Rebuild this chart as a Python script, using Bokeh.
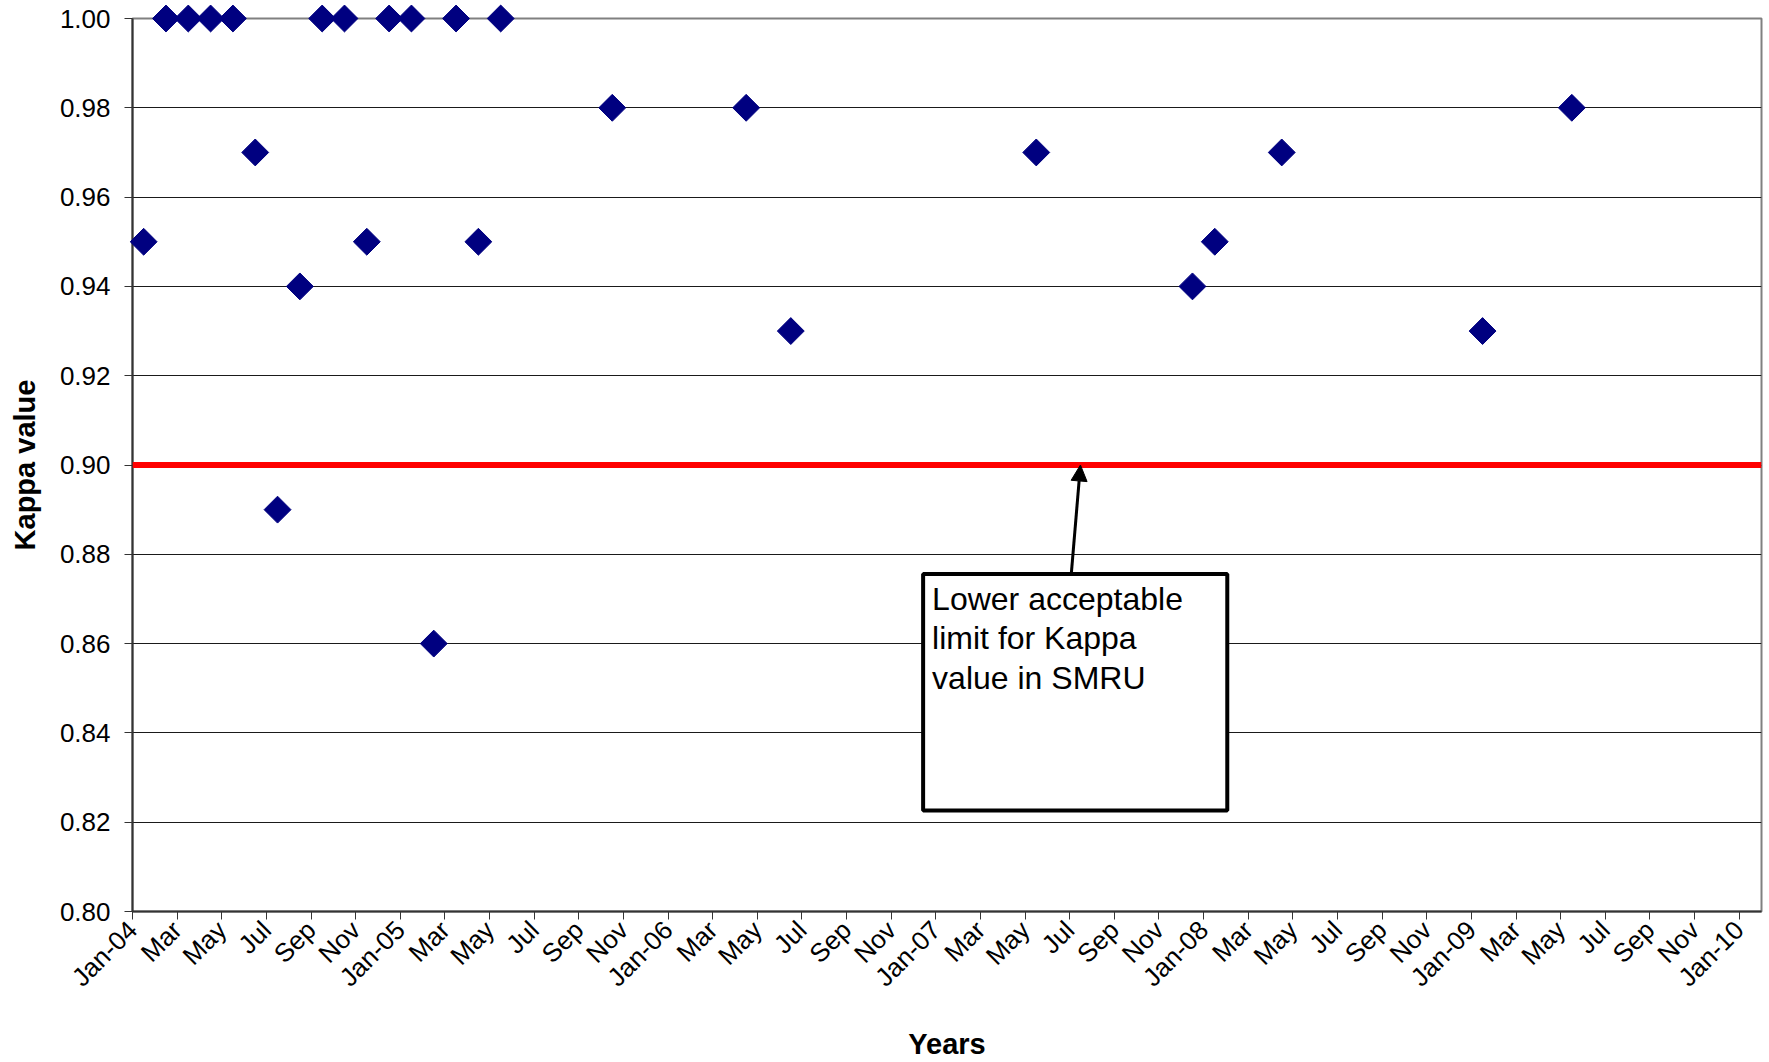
import math
from bokeh.plotting import figure
from bokeh.models import FixedTicker, Span, BoxAnnotation, Arrow, NormalHead, Label, ColumnDataSource
from bokeh.embed import file_html
from bokeh.resources import INLINE

# ---------------- data ----------------
months = ["2004-01", "2004-02", "2004-03", "2004-04", "2004-05", "2004-06",
          "2004-07", "2004-08", "2004-09", "2004-10", "2004-11", "2004-12",
          "2005-01", "2005-02", "2005-03", "2005-04", "2005-05", "2005-10",
          "2006-04", "2006-06", "2007-05", "2007-12", "2008-01", "2008-04",
          "2009-01", "2009-05"]
kappa = [0.95, 1.00, 1.00, 1.00, 1.00, 0.97, 0.89, 0.94, 1.00, 1.00, 0.95, 1.00,
         1.00, 0.86, 1.00, 0.95, 1.00, 0.98, 0.98, 0.93, 0.97, 0.94, 0.95, 0.97,
         0.93, 0.98]
x_tick_labels = ["Jan-04", "Mar", "May", "Jul", "Sep", "Nov",
                 "Jan-05", "Mar", "May", "Jul", "Sep", "Nov",
                 "Jan-06", "Mar", "May", "Jul", "Sep", "Nov",
                 "Jan-07", "Mar", "May", "Jul", "Sep", "Nov",
                 "Jan-08", "Mar", "May", "Jul", "Sep", "Nov",
                 "Jan-09", "Mar", "May", "Jul", "Sep", "Nov",
                 "Jan-10"]
y_ticks = [0.80, 0.82, 0.84, 0.86, 0.88, 0.90, 0.92, 0.94, 0.96, 0.98, 1.00]
y_tick_labels = ["0.80", "0.82", "0.84", "0.86", "0.88", "0.90", "0.92", "0.94", "0.96", "0.98", "1.00"]
kappa_limit = 0.90
note_lines = ["Lower acceptable", "limit for Kappa", "value in SMRU"]

# month slot index (month-based date axis, point in middle of its month slot)
def month_pos(s):
    y, m = s.split("-")
    return (int(y) - 2004) * 12 + (int(m) - 1) + 0.5

xs = [month_pos(s) for s in months]
x_ticks = list(range(0, 2 * len(x_tick_labels), 2))

FONT = "Liberation Sans"

p = figure(width=1765, height=1062, x_range=(0, 73), y_range=(0.80, 1.00),
           output_backend="svg", toolbar_location=None,
           min_border_left=132, min_border_right=4, min_border_top=18, min_border_bottom=150)
p.background_fill_color = "white"
p.border_fill_color = "white"
p.outline_line_color = "#808080"
p.outline_line_width = 2

# grid
p.xgrid.visible = False
p.ygrid.ticker = FixedTicker(ticks=y_ticks)
p.ygrid.grid_line_color = "#1a1a1a"
p.ygrid.grid_line_width = 1

# axes
for ax in (p.xaxis[0], p.yaxis[0]):
    ax.axis_line_color = "#333333"
    ax.axis_line_width = 2
    ax.major_tick_line_color = "#333333"
    ax.major_tick_line_width = 1
    ax.major_tick_in = 0
    ax.major_tick_out = 8
    ax.minor_tick_line_color = None
    ax.major_label_text_font = FONT
    ax.major_label_text_font_size = "26px"
    ax.major_label_text_color = "black"
    ax.axis_label_text_font = FONT
    ax.axis_label_text_font_size = "29px"
    ax.axis_label_text_font_style = "bold"
    ax.axis_label_text_color = "black"

p.xaxis.ticker = FixedTicker(ticks=x_ticks)
p.xaxis.major_label_overrides = {t: lab for t, lab in zip(x_ticks, x_tick_labels)}
p.xaxis.major_label_orientation = math.pi / 4
p.xaxis.major_label_standoff = 6
p.xaxis.axis_label = "Years"
p.xaxis.axis_label_standoff = 22

p.yaxis.ticker = FixedTicker(ticks=y_ticks)
p.yaxis.major_label_overrides = {t: lab for t, lab in zip(y_ticks, y_tick_labels)}
p.yaxis.major_label_standoff = 14
p.yaxis.axis_label = "Kappa value"
p.yaxis.axis_label_standoff = 16

# threshold line
p.add_layout(Span(location=kappa_limit, dimension="width", line_color="#FF0000", line_width=6))

# data points (diamonds)
src = ColumnDataSource(dict(x=xs, y=kappa))
p.scatter("x", "y", source=src, marker="square", angle=math.pi / 4, size=19,
          fill_color="#000080", line_color="#000080", level="overlay")

# annotation box and arrow
box_left, box_right, box_top, box_bottom = 35.43, 49.06, 0.8756, 0.8226
p.add_layout(BoxAnnotation(left=box_left, right=box_right, top=box_top, bottom=box_bottom,
                           fill_color="white", fill_alpha=1.0,
                           line_color="black", line_width=4, line_alpha=1.0))
p.add_layout(Arrow(end=NormalHead(size=16, fill_color="black", line_color="black"),
                   x_start=42.07, y_start=box_top, x_end=42.48, y_end=kappa_limit,
                   line_color="black", line_width=3))
for i, line in enumerate(note_lines):
    p.add_layout(Label(x=box_left, y=box_top, x_offset=9, y_offset=-25 - 39.5 * i,
                       text=line, text_font=FONT, text_font_size="32px",
                       text_color="black", text_baseline="alphabetic"))

open("out.html", "w").write(file_html(p, INLINE))
